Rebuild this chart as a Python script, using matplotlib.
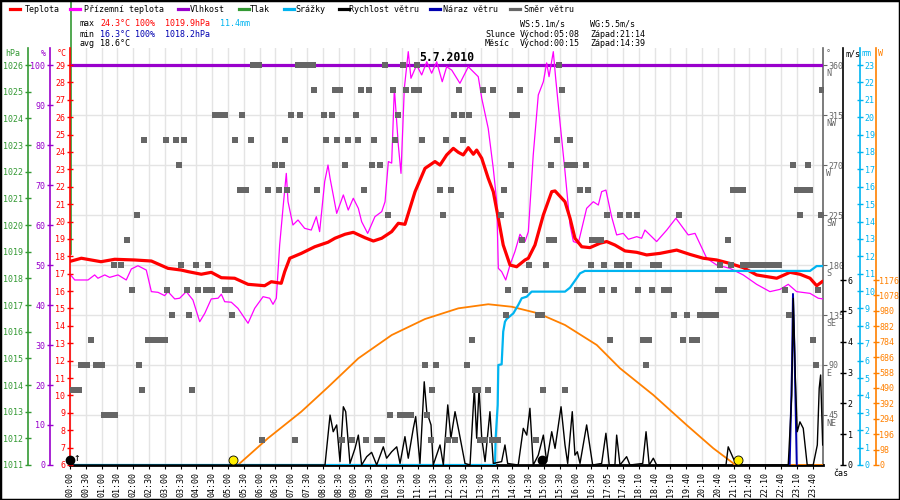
import matplotlib.pyplot as plt
from matplotlib.lines import Line2D
from matplotlib.patches import Rectangle

plt.rcParams['font.family'] = ['DejaVu Sans Mono']

# =============================================================================
# DATA (x = position along the time labels, one slot per label)
# =============================================================================
time_labels = [f"{h:02d}:{m:02d}" for h in range(17) for m in (0, 30)] + [
    "17:05", "17:40", "18:10", "18:40", "19:10", "19:40", "20:10",
    "20:40", "21:10", "21:40", "22:10", "22:40", "23:10", "23:40"]

temp_x = [0.08, 0.72, 1.96, 2.83, 4.09, 5.15, 6.20, 7.04, 7.47, 8.31, 8.94, 9.58,
          10.42, 11.27, 12.32, 12.74, 13.37, 13.59, 13.91, 14.64, 15.49, 16.33,
          16.77, 17.41, 17.93, 18.67, 19.20, 19.73, 20.36, 20.78, 21.20, 21.84,
          22.47, 23.10, 23.42, 23.84, 24.26, 24.58, 24.89, 25.21, 25.53, 25.74,
          26.06, 26.47, 26.79, 27.11, 27.42, 27.85, 28.27, 28.80, 29.01, 29.43,
          29.96, 30.49, 30.70, 31.33, 31.65, 31.96, 32.39, 32.91, 33.54, 33.97,
          34.49, 35.13, 35.87, 36.50, 37.34, 38.40, 39.24, 40.08, 40.93, 41.77,
          42.61, 43.46, 44.73, 45.57, 46.20, 46.84, 47.26, 47.60]
temp_y = [17.73, 17.89, 17.69, 17.83, 17.79, 17.73, 17.31, 17.21, 17.12, 16.97, 17.08, 16.77,
          16.74, 16.39, 16.31, 16.54, 16.45, 17.12, 17.89, 18.17, 18.55, 18.81,
          19.04, 19.27, 19.38, 19.07, 18.88, 19.04, 19.42, 19.90, 19.84, 21.72,
          23.06, 23.45, 23.25, 23.83, 24.21, 23.98, 23.83, 24.25, 23.87, 24.11,
          23.64, 22.49, 21.72, 20.19, 18.65, 17.50, 17.40, 17.79, 17.89, 18.65,
          20.38, 21.72, 21.76, 21.14, 20.19, 19.04, 18.55, 18.50, 18.75, 18.85,
          18.65, 18.31, 18.23, 18.08, 18.17, 18.36, 18.11, 17.89, 17.79, 17.59,
          17.35, 16.93, 16.74, 17.08, 16.97, 16.74, 16.31, 16.54]

ground_x = [0.04, 0.30, 1.14, 1.56, 1.77, 2.20, 2.51, 3.04, 3.56, 3.88, 4.30, 4.83, 5.15,
            5.57, 5.99, 6.20, 6.63, 6.94, 7.36, 7.78, 8.21, 8.53, 8.94, 9.37, 9.58,
            9.79, 10.21, 10.63, 11.27, 11.69, 12.22, 12.64, 12.85, 13.06, 13.27, 13.48,
            13.69, 13.80, 14.11, 14.43, 14.85, 15.27, 15.59, 15.80, 16.12, 16.33, 16.46,
            16.88, 17.30, 17.61, 17.93, 18.25, 18.46, 18.84, 19.30, 19.73, 19.94, 20.15,
            20.36, 20.53, 20.78, 20.95, 21.16, 21.41, 21.58, 21.94, 22.26, 22.58, 22.89,
            23.21, 23.56, 23.84, 24.16, 24.68, 25.21, 25.84, 26.06, 26.47, 26.79, 27.01,
            27.11, 27.32, 27.58, 27.85, 28.16, 28.48, 28.80, 29.01, 29.32, 29.64, 29.96,
            30.17, 30.32, 30.59, 30.74, 31.01, 31.33, 31.65, 31.86, 32.17, 32.70, 33.12,
            33.44, 33.65, 33.92, 34.28, 34.60, 35.02, 35.34, 35.87, 36.18, 36.39, 37.13,
            37.77, 38.35, 39.13, 39.56, 40.30, 40.93, 41.77, 42.61, 43.46, 44.30, 44.94,
            45.46, 45.99, 46.84, 47.36, 47.66]
ground_y = [16.93, 16.64, 16.64, 16.93, 16.74, 16.93, 16.79, 16.93, 16.64, 17.27, 17.46, 17.21, 15.97,
            15.93, 15.74, 15.97, 15.55, 15.59, 15.97, 15.49, 14.24, 14.72, 15.55, 15.59, 15.82,
            15.39, 15.36, 15.01, 14.15, 15.01, 15.68, 15.59, 15.24, 15.59, 18.65, 20.76,
            22.77, 21.14, 19.80, 20.09, 19.61, 19.51, 20.28, 19.42, 22.30, 23.25, 22.49,
            20.47, 21.53, 20.66, 21.34, 20.76, 19.99, 19.32, 20.28, 20.57, 21.14, 23.45,
            23.36, 27.66, 24.40, 22.77, 27.66, 29.77, 28.24, 29.00, 28.43, 29.19, 28.53,
            29.19, 28.04, 28.90, 28.71, 27.95, 28.90, 28.33, 27.09, 25.36, 23.06, 21.14,
            17.31, 17.12, 16.64, 17.50, 18.27, 19.27, 18.85, 19.42, 23.83, 27.28, 28.04,
            29.12, 28.33, 29.77, 28.24, 25.74, 22.88, 19.80, 18.85, 18.75, 20.76, 21.14,
            20.95, 21.72, 21.81, 20.28, 19.23, 19.32, 18.98, 19.13, 19.04, 19.51, 18.85,
            19.51, 20.19, 19.23, 19.32, 17.89, 17.50, 17.31, 16.93, 16.39, 15.97, 16.10,
            16.39, 15.97, 15.87, 15.59, 15.55]

humidity_x = [0, 47.66]
humidity_y = [100, 100]

pressure_x = [0.06, 0.06]
pressure_y = [1018.9, 1028.4]

rain_x = [0, 26.90, 26.94, 27.07, 27.11, 27.32, 27.42, 27.53, 27.64, 28.06, 28.37, 28.59,
          28.91, 29.22, 31.33, 31.65, 32.07, 32.28, 32.59, 46.84, 47.26, 47.66]
rain_y = [0, 0, 1.53, 3.45, 5.75, 5.79, 7.67, 8.24, 8.40, 8.72, 9.20, 9.59,
          9.68, 9.97, 9.97, 10.20, 10.74, 11.02, 11.16, 11.16, 11.44, 11.44]

wind_x = [0, 16.14, 16.46, 16.66, 16.88, 17.09, 17.30, 17.45, 17.72, 18.04, 18.25, 18.46,
          18.78, 19.09, 19.41, 19.83, 20.04, 20.36, 20.68, 20.89, 21.20, 21.41, 21.73,
          21.88, 22.15, 22.42, 22.58, 22.85, 22.99, 23.42, 23.63, 23.91, 24.11, 24.37,
          24.62, 25.00, 25.32, 25.59, 25.74, 25.89, 26.06, 26.27, 26.58, 26.79, 27.32,
          27.53, 27.70, 28.37, 28.69, 28.91, 29.11, 29.32, 29.64, 29.96, 30.17, 30.49,
          30.70, 31.08, 31.33, 31.50, 31.79, 31.96, 32.11, 32.28, 32.70, 33.08, 33.65,
          33.92, 34.13, 34.49, 34.60, 34.81, 35.23, 35.44, 36.25, 36.46, 36.66, 36.92,
          37.13, 41.52, 41.66, 41.98, 42.20, 45.46, 45.68, 45.78, 45.91, 46.03, 46.20,
          46.41, 46.66, 47.04, 47.30, 47.42, 47.51, 47.64]
wind_y = [0, 0, 1.62, 1.08, 1.30, 0.11, 1.89, 1.73, 0.05, 0.54, 0.97, 0,
          0.27, 0.41, 0, 0.59, 0.22, 0.43, 0.59, 0.05, 0.92, 0.22, 1.19,
          1.57, 0.05, 2.70, 1.73, 1.30, 0, 0.65, 0, 1.95, 0.87, 1.73,
          1.08, 0.05, 0, 2.49, 0.87, 2.49, 0.87, 0.11, 1.73, 0.05, 0.11,
          0.65, 0.05, 0, 1.19, 0.97, 1.84, 0, 0.32, 0.97, 0.11, 1.08,
          0.54, 1.89, 0.65, 0.05, 1.73, 0.32, 0.43, 0.05, 1.30, 0, 0.05,
          1.03, 0, 0, 0.97, 0, 0.27, 0, 0.05, 1.08, 0, 0.22,
          0, 0, 0.59, 0.22, 0, 0, 2.27, 5.41, 2.81, 1.08, 1.40,
          1.19, 0, 0, 0.65, 2.49, 2.92, 0.65]

gust_x = [45.55, 45.70, 45.76, 45.86, 46.00]
gust_y = [0, 3.2, 5.55, 3.6, 0]

solar_x = [10.63, 12.53, 14.64, 16.33, 18.25, 20.36, 22.47, 24.58, 26.47, 27.96,
           29.64, 31.33, 33.34, 34.81, 36.92, 39.03, 40.72, 41.98, 42.09]
solar_y = [0, 170, 339, 495, 678, 826, 928, 996, 1022, 1006,
           964, 890, 763, 615, 445, 254, 106, 11, 0]
solar_night_x = [45.5, 47.66]
solar_night_y = [0, 0]

sun_x = [10.32, 42.28]      # Východ 05:08, Západ 21:14
moon_x = [0.0, 29.85]       # Východ 00:15, Západ 14:39

dir_360 = [11.60, 11.95, 14.43, 14.75, 15.06, 15.38, 19.94, 21.06, 21.94, 30.95]
dir_337 = [15.44, 16.77, 17.09, 18.42, 18.92, 20.46, 21.25, 21.79, 22.11, 24.62, 26.16,
           26.79, 28.48, 31.12, 47.59]
dir_315 = [9.20, 9.50, 9.80, 10.89, 13.97, 14.54, 16.08, 16.56, 18.10, 20.74, 24.32,
           24.79, 25.25, 27.95, 28.30]
dir_292 = [4.68, 6.06, 6.69, 7.22, 10.46, 11.47, 13.59, 16.22, 16.92, 17.61, 18.21,
           19.24, 20.57, 22.30, 23.80, 24.89, 30.80, 31.65]
dir_270 = [6.88, 12.99, 13.42, 17.41, 19.09, 19.62, 27.91, 30.44, 31.44, 31.68, 31.96,
           32.66, 45.74, 46.69]
dir_247 = [10.74, 11.16, 12.53, 13.21, 13.73, 15.65, 18.61, 23.42, 24.11, 27.47, 32.28,
           32.80, 41.96, 42.30, 42.59, 45.99, 46.27, 46.52, 46.84]
dir_225 = [4.24, 20.11, 23.59, 27.28, 33.97, 34.81, 35.40, 35.90, 38.56, 46.20, 47.51]
dir_202 = [3.63, 28.59, 30.32, 30.61, 33.04, 33.35, 33.61, 41.63]
dir_180 = [2.78, 3.22, 7.04, 7.96, 8.73, 29.05, 30.11, 32.96, 33.80, 34.60, 34.85, 35.40,
           36.90, 37.28, 41.14, 41.84, 42.61, 42.97, 43.35, 43.73, 44.11, 44.49, 44.87]
dir_157 = [3.94, 6.16, 7.41, 8.10, 8.60, 8.99, 9.81, 10.15, 27.74, 28.80, 32.11, 32.45,
           33.65, 34.45, 35.97, 36.82, 37.59, 37.91, 40.99, 41.39, 45.25, 47.32]
dir_135 = [6.47, 7.53, 10.25, 27.58, 29.64, 29.85, 38.25, 39.03, 39.87, 40.19, 40.51,
           40.89, 45.51]
dir_112 = [1.35, 4.94, 5.28, 5.63, 5.99, 25.42, 34.18, 36.25, 36.65, 38.78, 39.37,
           39.68, 47.01]
dir_90 = [0.70, 1.10, 1.65, 2.05, 4.37, 22.47, 23.15, 25.11, 36.46, 47.22]
dir_67 = [0.04, 0.30, 0.55, 4.56, 7.72, 22.89, 25.63, 25.80, 26.44, 29.96, 31.33]
dir_45 = [2.15, 2.50, 2.83, 20.25, 20.89, 21.27, 21.60, 22.58]
dir_22 = [12.15, 14.22, 17.23, 17.83, 18.71, 19.45, 19.73, 22.85, 23.91, 24.37, 25.95,
          26.27, 26.69, 27.11, 29.49]

dir_rows = [(360, dir_360), (337.5, dir_337), (315, dir_315), (292.5, dir_292),
            (270, dir_270), (247.5, dir_247), (225, dir_225), (202.5, dir_202),
            (180, dir_180), (157.5, dir_157), (135, dir_135), (112.5, dir_112),
            (90, dir_90), (67.5, dir_67), (45, dir_45), (22.5, dir_22)]
dir_x = [x for deg, xs in dir_rows for x in xs]
dir_deg = [deg for deg, xs in dir_rows for x in xs]

# =============================================================================
# STYLE
# =============================================================================
C_RED = "#ff0000"
C_MAG = "#ff00ff"
C_PUR = "#9900cc"
C_GRN = "#339933"
C_CYA = "#00b4f0"
C_BLU = "#0000b0"
C_GRY = "#666666"
C_ORA = "#ff8000"
FS = 6.0

W, H = 900, 500
L, R, T, B = 70, 823, 48, 465

fig = plt.figure(figsize=(9, 5), dpi=100, facecolor="white")


def fx(px):
    return px / W


def fy(py):
    return 1 - py / H


def pos(px):
    return (px - L) / (R - L)


# base axes: direction scale, grid and time axis
base = fig.add_axes([fx(L), fy(B), (R - L) / W, (B - T) / H])
base.set_xlim(0, 47.66)
base.set_ylim(0, 375.3)
base.set_xticks(range(len(time_labels)))
base.set_xticklabels(time_labels, rotation=90, fontsize=FS)
base.tick_params(axis="x", length=3, width=0.8, pad=2, colors="black")
base.grid(True, color="#e4e4e4", linewidth=1)
base.set_axisbelow(True)
for s in ["left", "top"]:
    base.spines[s].set_visible(False)
base.spines["bottom"].set_linewidth(2)
base.spines["right"].set_color(C_GRY)
base.spines["right"].set_linewidth(1.2)


def twin(ylim, color, side, px, ticks, pad=1):
    a = base.twinx()
    a.set_ylim(*ylim)
    a.patch.set_visible(False)
    for s in a.spines.values():
        s.set_visible(False)
    sp = a.spines[side]
    sp.set_visible(True)
    sp.set_position(("axes", pos(px)))
    sp.set_color(color)
    sp.set_linewidth(1.2)
    if side == "left":
        a.yaxis.tick_left()
    else:
        a.yaxis.tick_right()
    a.set_yticks(ticks)
    a.tick_params(axis="y", colors=color, labelsize=FS, direction="inout",
                  length=5, width=1, pad=pad)
    return a


ax_hpa = twin((1011, 1026.64), C_GRN, "left", 28, range(1011, 1027))
ax_hum = twin((0, 104.25), C_PUR, "left", 50, range(0, 101, 10))
ax_t = twin((6, 29.98), C_RED, "left", L, range(6, 30))
ax_w = twin((0, 2651), C_ORA, "right", 876, range(0, 1177, 98), pad=0)
ax_mm = twin((0, 23.98), C_CYA, "right", 860, range(0, 24))
ax_ms = twin((0, 13.53), "black", "right", 843, range(0, 7))
ax_dir = base.twinx()
ax_dir.set_ylim(0, 375.3)
ax_dir.axis("off")

# direction scale on the right of the base axes (twinx moved it to the left)
base.yaxis.tick_right()
base.set_yticks([45, 90, 135, 180, 225, 270, 315, 360])
base.tick_params(axis="y", colors=C_GRY, labelsize=FS, length=3, pad=1,
                 left=False, labelleft=False, right=True, labelright=True)
for deg, letter in zip([45, 90, 135, 180, 225, 270, 315, 360],
                       ["NE", "E", "SE", "S", "SW", "W", "NW", "N"]):
    base.annotate(letter, xy=(1, deg), xycoords=base.get_yaxis_transform(),
                  xytext=(2.5, -3), textcoords="offset points", va="top", ha="left",
                  fontsize=FS, color=C_GRY)

# series
ax_hum.plot(humidity_x, humidity_y, color=C_PUR, lw=2.3, solid_capstyle="butt")
ax_hpa.plot(pressure_x, pressure_y, color=C_GRN, lw=1.2, clip_on=False)
ax_t.plot(ground_x, ground_y, color=C_MAG, lw=0.9)
ax_t.plot(temp_x, temp_y, color=C_RED, lw=2.3)
ax_w.plot(solar_x, solar_y, color=C_ORA, lw=1.3)
ax_w.plot(solar_night_x, solar_night_y, color=C_ORA, lw=2)
ax_mm.plot(rain_x, rain_y, color=C_CYA, lw=1.6)
ax_ms.plot(gust_x, gust_y, color=C_BLU, lw=1.4)
ax_ms.plot(wind_x, wind_y, color="black", lw=1.0)
ax_ms.plot(sun_x, [0.16] * len(sun_x), "o", color="#ffee00", mec="black", mew=0.6,
           ms=6.5, clip_on=False)
ax_ms.plot(moon_x, [0.15] * len(moon_x), "o", color="black", ms=6, clip_on=False)
ax_ms.text(0.45, 0.05, "↑", fontsize=8, color="black", ha="center", va="bottom")
ax_dir.plot(dir_x, dir_deg, "s", color=C_GRY, ms=4.3, mew=0, ls="none")

ax_dir.text(0.5, 1 - (57 - T) / (B - T), "5.7.2010", transform=ax_dir.transAxes,
            ha="center", va="center", fontsize=8.3, fontweight="bold")

# legend
legend = [("Teplota", C_RED, 10, 25), ("Přízemní teplota", C_MAG, 70, 84),
          ("Vlhkost", C_PUR, 178, 190), ("Tlak", C_GRN, 239, 250),
          ("Srážky", C_CYA, 284, 295), ("Rychlost větru", "black", 339, 349),
          ("Náraz větru", C_BLU, 430, 443), ("Směr větru", C_GRY, 510, 524)]
for name, color, x0, xt in legend:
    fig.add_artist(Line2D([fx(x0), fx(x0 + 10)], [fy(9), fy(9)], color=color, lw=2.3))
    fig.text(fx(xt), fy(9), name, fontsize=FS, va="center", ha="left")

CW = 5.0  # monospace character advance in px


def row(x0, y, parts):
    for offs, txt, color in parts:
        fig.text(fx(x0 + offs * CW), fy(y), txt, fontsize=FS, color=color,
                 va="center", ha="left")


row(80, 24, [(0, "max", "black"), (4, "24.3°C", C_RED), (11, "100%", C_RED),
             (17, "1019.9hPa", C_RED), (28, "11.4mm", C_CYA)])
row(80, 34, [(0, "min", "black"), (4, "16.3°C", C_BLU), (11, "100%", C_BLU),
             (17, "1018.2hPa", C_BLU)])
row(80, 43.5, [(0, "avg", "black"), (4, "18.6°C", "black")])
row(485, 24, [(7, "WS:5.1m/s", "black"), (21, "WG:5.5m/s", "black")])
row(485, 34, [(0, "Slunce", "black"), (7, "Východ:05:08", "black"),
              (21, "Západ:21:14", "black")])
row(485, 43.5, [(0, "Měsíc", "black"), (7, "Východ:00:15", "black"),
                (21, "Západ:14:39", "black")])

# axis unit labels
for txt, color, px in [("hPa", C_GRN, 5), ("%", C_PUR, 41), ("°C", C_RED, 57),
                       ("°", C_GRY, 826), ("m/s", "black", 845), ("mm", C_CYA, 862),
                       ("W", C_ORA, 878)]:
    fig.text(fx(px), fy(54), txt, fontsize=FS, color=color, va="center", ha="left")
fig.text(fx(833), fy(473), "čas", fontsize=FS, va="center", ha="left")

fig.add_artist(Rectangle((0, 0), 1, 1, transform=fig.transFigure, fill=False,
                         ec="black", lw=2.5))

fig.savefig("out.png", dpi=100, facecolor="white")
